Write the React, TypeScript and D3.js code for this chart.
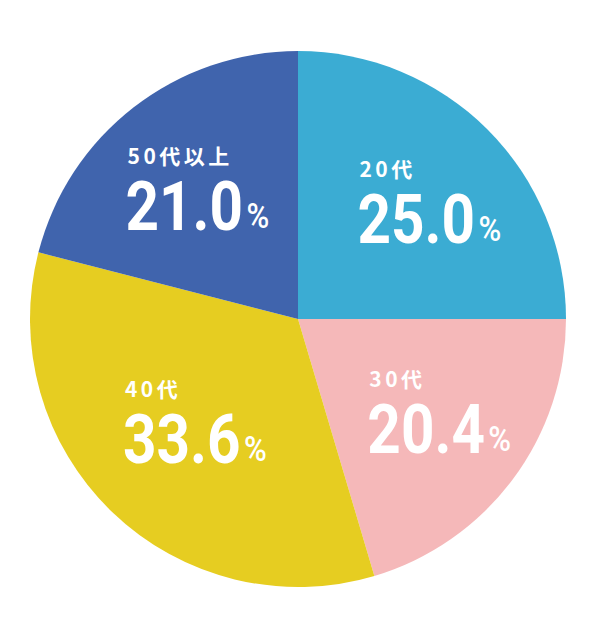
import React, { useEffect, useRef } from 'react';
import * as d3 from 'd3';

// 年代別の構成比 (%)
const categories = ['20代', '30代', '40代', '50代以上'];
const shares = [25.0, 20.4, 33.6, 21.0];
const colors = ['#3BACD3', '#F5B8B9', '#E6CD21', '#4064AD'];

// small per-slice nudges of the label block away from the centroid
const labelNudge: [number, number][] = [[12, 2], [6, -8], [14, -19], [3, 3]];

const PieChart = ({ width = 592, height = 624 }: { width?: number; height?: number }) => {
  const ref = useRef<SVGSVGElement | null>(null);

  useEffect(() => {
    if (!ref.current) return;
    const svg = d3.select(ref.current);
    svg.selectAll('*').remove();

    const cx = 298;
    const cy = 319;
    const radius = 268;

    const g = svg.append('g').attr('transform', `translate(${cx}, ${cy})`);

    const pie = d3.pie<number>().sort(null).value(d => d);
    const arc = d3.arc<d3.PieArcDatum<number>>().innerRadius(0).outerRadius(radius);
    const labelArc = d3.arc<d3.PieArcDatum<number>>()
      .innerRadius(radius * 0.63)
      .outerRadius(radius * 0.63);

    const arcs = g.selectAll('.arc')
      .data(pie(shares))
      .enter().append('g')
      .attr('class', 'arc');

    arcs.append('path')
      .attr('d', arc)
      .attr('fill', (_, i) => colors[i]);

    const fmt = d3.format('.1f');

    arcs.each(function (d, i) {
      const [mx, my] = labelArc.centroid(d);
      const x = mx + labelNudge[i][0] - 72;
      const numY = my + labelNudge[i][1] + 41;
      const sel = d3.select(this);

      sel.append('text')
        .attr('x', x + 2)
        .attr('y', numY - 66)
        .text(categories[i])
        .style('font-family', '"Noto Sans CJK JP", "Noto Sans", sans-serif')
        .style('font-size', '21px')
        .style('font-weight', 700)
        .style('letter-spacing', '3.5px')
        .style('fill', 'white');

      const num = sel.append('text')
        .attr('transform', `translate(${x}, ${numY}) scale(0.86, 1)`)
        .style('font-family', 'Roboto, "DejaVu Sans", sans-serif')
        .style('fill', 'white');

      num.append('tspan')
        .text(fmt(shares[i]))
        .style('font-size', '68px')
        .style('font-weight', 700);

      num.append('tspan')
        .attr('dx', 4)
        .attr('dy', -2)
        .text('%')
        .style('font-size', '36px')
        .style('font-weight', 500);
    });
  }, [width, height]);

  return (
    <svg
      ref={ref}
      width={width}
      height={height}
      style={{ position: 'absolute', left: 0, top: 0, background: 'white' }}
    ></svg>
  );
};

export default function App() {
  return <PieChart />;
}
